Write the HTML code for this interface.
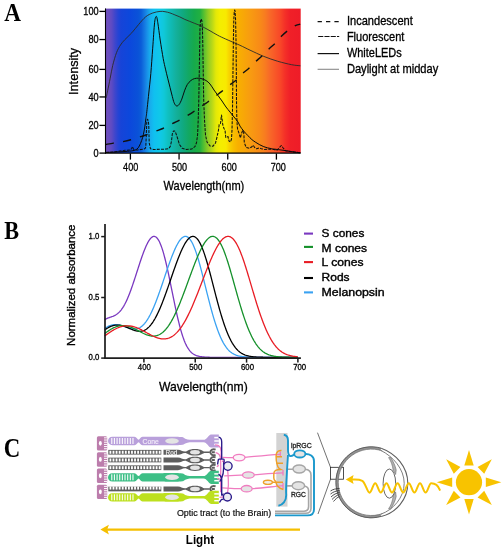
<!DOCTYPE html>
<html><head><meta charset="utf-8"><style>
html,body{margin:0;padding:0;background:#fff;width:504px;height:550px;overflow:hidden}
</style></head><body>
<svg width="504" height="550" viewBox="0 0 504 550" style="position:absolute;left:0;top:0;will-change:transform">
<defs><linearGradient id="spec" gradientUnits="userSpaceOnUse" x1="105.6" y1="0" x2="300.7" y2="0">
<stop offset="0.0000" stop-color="#7050bc"/>
<stop offset="0.0174" stop-color="#6a4ec0"/>
<stop offset="0.0328" stop-color="#5a4ac4"/>
<stop offset="0.0482" stop-color="#3e46cc"/>
<stop offset="0.0636" stop-color="#2644d4"/>
<stop offset="0.0789" stop-color="#1644d8"/>
<stop offset="0.1251" stop-color="#0c48dc"/>
<stop offset="0.1661" stop-color="#0a52d8"/>
<stop offset="0.1814" stop-color="#0a5cd8"/>
<stop offset="0.1968" stop-color="#1474e0"/>
<stop offset="0.2122" stop-color="#1890e8"/>
<stop offset="0.2276" stop-color="#18acec"/>
<stop offset="0.2481" stop-color="#10c0f0"/>
<stop offset="0.2788" stop-color="#10c8e8"/>
<stop offset="0.2993" stop-color="#10c8d8"/>
<stop offset="0.3198" stop-color="#10c0c0"/>
<stop offset="0.3403" stop-color="#10b8b0"/>
<stop offset="0.3608" stop-color="#14b09c"/>
<stop offset="0.3916" stop-color="#10aa84"/>
<stop offset="0.4223" stop-color="#12a866"/>
<stop offset="0.4531" stop-color="#16aa4c"/>
<stop offset="0.4839" stop-color="#22b040"/>
<stop offset="0.5044" stop-color="#58c030"/>
<stop offset="0.5249" stop-color="#90cc24"/>
<stop offset="0.5454" stop-color="#b8d818"/>
<stop offset="0.5659" stop-color="#e4e808"/>
<stop offset="0.5864" stop-color="#f4ee00"/>
<stop offset="0.6171" stop-color="#f8ea00"/>
<stop offset="0.6325" stop-color="#f8d400"/>
<stop offset="0.6530" stop-color="#f8c000"/>
<stop offset="0.6786" stop-color="#f8b000"/>
<stop offset="0.7401" stop-color="#f89c10"/>
<stop offset="0.7914" stop-color="#f88a18"/>
<stop offset="0.8170" stop-color="#f87c20"/>
<stop offset="0.8426" stop-color="#f86828"/>
<stop offset="0.8939" stop-color="#f84828"/>
<stop offset="0.9195" stop-color="#f43028"/>
<stop offset="0.9452" stop-color="#f02028"/>
<stop offset="1.0000" stop-color="#ee1c28"/>
</linearGradient></defs>
<rect width="504" height="550" fill="#fff"/>
<g font-family="Liberation Serif" font-weight="bold" font-size="26" fill="#000">
<text x="4.3" y="21.2" textLength="16.7" lengthAdjust="spacingAndGlyphs">A</text>
<text x="4.3" y="238.7" textLength="14.8" lengthAdjust="spacingAndGlyphs">B</text>
<text x="3.8" y="457.2" textLength="16.5" font-size="26.8" lengthAdjust="spacingAndGlyphs">C</text>
</g>
<rect x="105.6" y="8.6" width="195.10" height="144.40" fill="url(#spec)"/>
<g fill="none" stroke-linejoin="round">
<path d="M106.20,97.80 C106.43,96.65 106.93,94.17 107.60,90.90 C108.27,87.63 109.35,82.43 110.20,78.20 C111.05,73.97 111.65,69.75 112.70,65.50 C113.75,61.25 115.20,56.12 116.50,52.70 C117.80,49.28 119.12,47.17 120.50,45.00 C121.88,42.83 122.92,41.73 124.80,39.70 C126.68,37.67 129.48,35.35 131.80,32.80 C134.12,30.25 136.38,27.07 138.70,24.40 C141.02,21.73 143.37,18.70 145.70,16.80 C148.03,14.90 150.32,13.90 152.70,13.00 C155.08,12.10 157.95,11.62 160.00,11.40 C162.05,11.18 163.35,11.45 165.00,11.70 C166.65,11.95 168.25,12.37 169.90,12.90 C171.55,13.43 173.25,14.23 174.90,14.90 C176.55,15.57 178.15,16.15 179.80,16.90 C181.45,17.65 183.13,18.65 184.80,19.40 C186.47,20.15 188.15,20.73 189.80,21.40 C191.45,22.07 193.05,22.75 194.70,23.40 C196.35,24.05 198.05,24.57 199.70,25.30 C201.35,26.03 202.88,26.88 204.60,27.80 C206.32,28.72 207.80,29.55 210.00,30.80 C212.20,32.05 215.20,33.93 217.80,35.30 C220.40,36.67 221.90,37.33 225.60,39.00 C229.30,40.67 235.95,43.45 240.00,45.30 C244.05,47.15 245.93,48.25 249.90,50.10 C253.87,51.95 259.17,54.54 263.80,56.40 C268.43,58.26 273.07,59.87 277.70,61.25 C282.33,62.63 287.82,63.94 291.60,64.70 C295.38,65.46 298.93,65.62 300.40,65.80" stroke="#2a2a2a" stroke-width="0.9"/>
<path d="M105.80,144.50 C107.08,144.27 110.82,143.55 113.50,143.10 C116.18,142.65 119.02,142.35 121.90,141.80 C124.78,141.25 128.03,140.53 130.80,139.80 C133.57,139.07 136.02,138.20 138.50,137.40 C140.98,136.60 142.92,136.00 145.70,135.00 C148.48,134.00 152.33,132.48 155.20,131.40 C158.07,130.32 160.37,129.65 162.90,128.50 C165.43,127.35 167.93,125.73 170.40,124.50 C172.87,123.27 175.15,122.43 177.70,121.10 C180.25,119.77 183.15,118.00 185.70,116.50 C188.25,115.00 190.58,113.70 193.00,112.10 C195.42,110.50 197.78,108.55 200.20,106.90 C202.62,105.25 204.98,103.97 207.50,102.20 C210.02,100.43 212.92,98.10 215.30,96.30 C217.68,94.50 219.50,93.22 221.80,91.40 C224.10,89.58 226.78,87.20 229.10,85.40 C231.42,83.60 233.51,82.54 235.70,80.60 C237.89,78.66 240.00,75.85 242.25,73.75 C244.50,71.65 247.01,69.99 249.20,68.00 C251.39,66.01 253.32,63.77 255.40,61.80 C257.48,59.83 259.50,58.30 261.70,56.20 C263.90,54.10 266.40,51.32 268.60,49.20 C270.80,47.08 272.82,45.60 274.90,43.50 C276.98,41.40 279.02,38.70 281.10,36.60 C283.18,34.50 285.58,32.40 287.40,30.90 C289.22,29.40 290.57,28.52 292.00,27.60 C293.43,26.68 294.63,25.98 296.00,25.40 C297.37,24.82 299.50,24.32 300.20,24.10" stroke="#111" stroke-width="1.4" stroke-dasharray="8.2 9.3"/>
<path d="M106.00,152.60 L115.00,151.80 L125.00,150.30 L130.60,149.90 L131.60,148.50 L132.50,146.70 L133.30,148.50 L134.10,149.90 L137.70,149.90 L140.90,149.50 L144.00,149.10 L145.30,148.20 L145.80,146.70 L146.30,134.80 L146.80,121.00 L147.60,119.20 L148.40,121.00 L148.80,126.90 L149.20,142.80 L150.40,148.70 L153.60,149.50 L160.00,149.30 L166.30,149.10 L168.80,148.60 L170.30,146.40 L171.50,141.20 L172.30,134.00 L173.50,130.90 L174.70,130.90 L175.90,133.30 L177.50,138.00 L179.40,144.40 L182.20,148.30 L186.20,149.50 L191.70,149.10 L194.90,146.70 L196.50,142.80 L197.60,134.80 L198.20,120.00 L198.80,100.00 L199.30,70.00 L199.70,45.00 L200.00,28.00 L200.50,21.00 L201.20,18.90 L201.90,21.00 L202.40,28.00 L202.80,45.00 L203.20,70.00 L203.70,100.00 L204.50,120.00 L205.50,135.00 L207.00,142.00 L210.00,146.00 L213.00,146.20 L215.50,143.00 L217.00,137.00 L218.50,130.00 L219.20,124.50 L220.50,123.50 L221.10,118.00 L221.50,115.00 L222.20,120.00 L222.80,125.00 L224.00,128.50 L225.00,130.00 L225.80,137.50 L227.00,137.00 L228.00,136.50 L229.00,141.00 L230.50,142.00 L231.50,139.00 L232.00,130.00 L232.50,110.00 L233.00,70.00 L233.40,40.00 L233.80,20.00 L234.30,11.50 L234.70,10.00 L235.10,11.50 L235.60,20.00 L236.00,40.00 L236.30,70.00 L236.50,100.00 L236.80,118.00 L237.20,125.00 L237.60,129.30 L239.20,133.70 L240.40,138.00 L241.60,133.30 L242.70,130.50 L243.50,130.90 L243.90,134.80 L244.30,142.80 L246.30,147.50 L249.50,148.30 L251.90,146.70 L253.10,145.20 L254.70,147.50 L256.60,148.70 L259.00,147.90 L261.40,148.70 L264.60,149.50 L267.70,149.10 L270.90,149.30 L274.00,149.60 L277.10,150.20 L279.00,148.00 L281.30,145.50 L283.20,148.00 L285.50,150.80 L290.00,151.50 L296.20,152.30 L300.40,152.70" stroke="#111" stroke-width="1.05" stroke-dasharray="3 1.2"/>
<path d="M106.00,152.40 C107.50,152.35 111.83,152.25 115.00,152.10 C118.17,151.95 122.02,151.73 125.00,151.50 C127.98,151.27 130.92,151.10 132.90,150.70 C134.88,150.30 135.83,149.88 136.90,149.10 C137.97,148.32 138.50,147.45 139.30,146.00 C140.10,144.55 141.03,142.27 141.70,140.40 C142.37,138.53 142.78,137.05 143.30,134.80 C143.82,132.55 144.38,129.53 144.80,126.90 C145.22,124.27 145.50,121.23 145.80,119.00 C146.10,116.77 146.12,117.67 146.60,113.50 C147.08,109.33 148.00,100.65 148.70,94.00 C149.40,87.35 150.13,81.23 150.80,73.60 C151.47,65.97 152.07,56.68 152.70,48.20 C153.33,39.72 154.00,28.00 154.60,22.70 C155.20,17.40 155.77,16.40 156.30,16.40 C156.83,16.40 157.15,18.77 157.80,22.70 C158.45,26.63 159.30,34.03 160.20,40.00 C161.10,45.97 162.32,53.65 163.20,58.50 C164.08,63.35 164.75,65.82 165.50,69.10 C166.25,72.38 166.95,75.17 167.70,78.20 C168.45,81.23 169.23,84.27 170.00,87.30 C170.77,90.33 171.62,93.83 172.30,96.40 C172.98,98.97 173.42,101.12 174.10,102.70 C174.78,104.28 175.57,105.60 176.40,105.90 C177.23,106.20 178.20,105.63 179.10,104.50 C180.00,103.37 180.90,101.37 181.80,99.10 C182.70,96.83 183.58,93.33 184.50,90.90 C185.42,88.47 186.23,86.23 187.30,84.50 C188.37,82.77 189.70,81.48 190.90,80.50 C192.10,79.52 193.28,78.98 194.50,78.60 C195.72,78.22 197.12,78.22 198.20,78.20 C199.28,78.18 199.70,78.12 201.00,78.50 C202.30,78.88 204.50,79.58 206.00,80.50 C207.50,81.42 208.67,82.42 210.00,84.00 C211.33,85.58 212.67,88.08 214.00,90.00 C215.33,91.92 216.67,93.67 218.00,95.50 C219.33,97.33 220.67,99.08 222.00,101.00 C223.33,102.92 224.67,105.17 226.00,107.00 C227.33,108.83 228.67,110.33 230.00,112.00 C231.33,113.67 232.67,115.33 234.00,117.00 C235.33,118.67 237.00,120.48 238.00,122.00 C239.00,123.52 239.02,124.55 240.00,126.10 C240.98,127.65 242.58,129.72 243.90,131.30 C245.22,132.88 246.57,134.22 247.90,135.60 C249.23,136.98 250.58,138.47 251.90,139.60 C253.22,140.73 254.48,141.53 255.80,142.40 C257.12,143.27 258.47,144.08 259.80,144.80 C261.13,145.52 262.48,146.18 263.80,146.70 C265.12,147.22 266.38,147.57 267.70,147.90 C269.02,148.23 270.32,148.47 271.70,148.70 C273.08,148.93 273.50,148.95 276.00,149.30 C278.50,149.65 283.33,150.30 286.70,150.80 C290.07,151.30 293.92,151.98 296.20,152.30 C298.48,152.62 299.70,152.63 300.40,152.70" stroke="#0a0a0a" stroke-width="1.0"/>
</g>
<g stroke="#000" stroke-width="1.3" fill="none">
<path d="M105.5,8.4 V153.8" stroke-width="1.1"/>
<path d="M105,153.2 H300.7"/>
<path d="M99.4,153.10 H105"/>
<path d="M99.4,125.40 H105"/>
<path d="M99.4,96.95 H105"/>
<path d="M99.4,69.40 H105"/>
<path d="M99.4,39.55 H105"/>
<path d="M99.4,11.40 H105"/>
<path d="M130.40,153.5 V159.6"/>
<path d="M179.07,153.5 V159.6"/>
<path d="M227.74,153.5 V159.6"/>
<path d="M276.41,153.5 V159.6"/>
</g>
<g font-family="Liberation Sans" font-size="10.6" fill="#000" stroke="#000" stroke-width="0.3">
<text x="98.6" y="156.90" text-anchor="end" textLength="5.1" lengthAdjust="spacingAndGlyphs">0</text>
<text x="98.6" y="129.20" text-anchor="end" textLength="10.2" lengthAdjust="spacingAndGlyphs">20</text>
<text x="98.6" y="100.75" text-anchor="end" textLength="10.2" lengthAdjust="spacingAndGlyphs">40</text>
<text x="98.6" y="73.20" text-anchor="end" textLength="10.2" lengthAdjust="spacingAndGlyphs">60</text>
<text x="98.6" y="43.35" text-anchor="end" textLength="10.2" lengthAdjust="spacingAndGlyphs">80</text>
<text x="98.6" y="15.20" text-anchor="end" textLength="15.3" lengthAdjust="spacingAndGlyphs">100</text>
<text x="130.70" y="171.1" text-anchor="middle" font-size="11.2" textLength="15.2" lengthAdjust="spacingAndGlyphs">400</text>
<text x="179.50" y="171.1" text-anchor="middle" font-size="11.2" textLength="15.2" lengthAdjust="spacingAndGlyphs">500</text>
<text x="229.20" y="171.1" text-anchor="middle" font-size="11.2" textLength="15.2" lengthAdjust="spacingAndGlyphs">600</text>
<text x="278.30" y="171.1" text-anchor="middle" font-size="11.2" textLength="15.2" lengthAdjust="spacingAndGlyphs">700</text>
</g>
<text x="163.6" y="189.9" font-family="Liberation Sans" font-size="12.4" stroke="#000" stroke-width="0.3" textLength="80.7" lengthAdjust="spacingAndGlyphs">Wavelength(nm)</text>
<text transform="translate(77.8,94.9) rotate(-90)" font-family="Liberation Sans" font-size="12.4" stroke="#000" stroke-width="0.3" textLength="47" lengthAdjust="spacingAndGlyphs">Intensity</text>
<g stroke="#111" fill="none">
<path d="M317.6,21.6 H339" stroke-width="1.15" stroke-dasharray="4.3 4.1"/>
<path d="M318.2,36.5 H339.2" stroke-width="1.15" stroke-dasharray="5.1 1.15"/>
<path d="M317.6,53.6 H339" stroke-width="1.2"/>
<path d="M317.6,69.3 H339" stroke="#8a8a8a" stroke-width="1.1"/>
</g>
<g font-family="Liberation Sans" font-size="12.7" fill="#000" stroke="#000" stroke-width="0.32">
<text x="346.9" y="25.0" textLength="65.9" lengthAdjust="spacingAndGlyphs">Incandescent</text>
<text x="346.9" y="41.2" textLength="57.5" lengthAdjust="spacingAndGlyphs">Fluorescent</text>
<text x="346.9" y="57.3" textLength="54.8" lengthAdjust="spacingAndGlyphs">WhiteLEDs</text>
<text x="346.9" y="73.3" textLength="91.4" lengthAdjust="spacingAndGlyphs">Daylight at midday</text>
</g>
<g fill="none" stroke-width="1.3">
<path d="M104.63,319.63 L105.15,319.35 L105.66,319.08 L106.17,318.83 L106.69,318.60 L107.20,318.38 L107.71,318.17 L108.23,317.97 L108.74,317.77 L109.25,317.59 L109.77,317.41 L110.28,317.23 L110.79,317.05 L111.31,316.87 L111.82,316.68 L112.33,316.49 L112.85,316.29 L113.36,316.08 L113.87,315.85 L114.39,315.61 L114.90,315.35 L115.41,315.07 L115.93,314.77 L116.44,314.44 L116.95,314.09 L117.47,313.71 L117.98,313.30 L118.49,312.85 L119.00,312.38 L119.52,311.86 L120.03,311.31 L120.54,310.72 L121.06,310.09 L121.57,309.42 L122.08,308.71 L122.60,307.96 L123.11,307.16 L123.62,306.33 L124.14,305.44 L124.65,304.52 L125.16,303.55 L125.68,302.53 L126.19,301.48 L126.70,300.38 L127.22,299.24 L127.73,298.06 L128.24,296.84 L128.76,295.59 L129.27,294.29 L129.78,292.97 L130.30,291.60 L130.81,290.21 L131.32,288.79 L131.84,287.33 L132.35,285.86 L132.86,284.36 L133.38,282.83 L133.89,281.29 L134.40,279.74 L134.92,278.17 L135.43,276.59 L135.94,275.00 L136.46,273.40 L136.97,271.80 L137.48,270.20 L138.00,268.61 L138.51,267.02 L139.02,265.44 L139.54,263.87 L140.05,262.31 L140.56,260.77 L141.08,259.25 L141.59,257.76 L142.10,256.29 L142.62,254.85 L143.13,253.44 L143.64,252.07 L144.16,250.73 L144.67,249.43 L145.18,248.18 L145.70,246.98 L146.21,245.82 L146.72,244.72 L147.24,243.67 L147.75,242.68 L148.26,241.76 L148.78,240.89 L149.29,240.10 L149.80,239.37 L150.32,238.72 L150.83,238.14 L151.34,237.64 L151.86,237.22 L152.37,236.88 L152.88,236.63 L153.40,236.47 L153.91,236.40 L154.42,236.42 L154.94,236.54 L155.45,236.75 L155.96,237.06 L156.48,237.47 L156.99,237.97 L157.50,238.58 L158.02,239.29 L158.53,240.11 L159.04,241.02 L159.56,242.04 L160.07,243.16 L160.58,244.38 L161.10,245.69 L161.61,247.11 L162.12,248.62 L162.64,250.22 L163.15,251.91 L163.66,253.69 L164.18,255.55 L164.69,257.49 L165.20,259.51 L165.72,261.60 L166.23,263.75 L166.74,265.97 L167.26,268.24 L167.77,270.57 L168.28,272.94 L168.80,275.35 L169.31,277.79 L169.82,280.27 L170.33,282.77 L170.85,285.28 L171.36,287.81 L171.87,290.35 L172.39,292.88 L172.90,295.41 L173.41,297.93 L173.93,300.43 L174.44,302.91 L174.95,305.36 L175.47,307.78 L175.98,310.17 L176.49,312.51 L177.01,314.81 L177.52,317.06 L178.03,319.25 L178.55,321.39 L179.06,323.47 L179.57,325.48 L180.09,327.43 L180.60,329.30 L181.11,331.11 L181.63,332.84 L182.14,334.50 L182.65,336.09 L183.17,337.60 L183.68,339.04 L184.19,340.40 L184.71,341.68 L185.22,342.90 L185.73,344.04 L186.25,345.11 L186.76,346.11 L187.27,347.04 L187.79,347.92 L188.30,348.72 L188.81,349.48 L189.33,350.17 L189.84,350.81 L190.35,351.40 L190.87,351.95 L191.38,352.45 L191.89,352.91 L192.41,353.33 L192.92,353.71 L193.43,354.06 L193.95,354.38 L194.46,354.67 L194.97,354.93 L195.49,355.17 L196.00,355.39 L196.51,355.59 L197.03,355.76 L197.54,355.92 L198.05,356.07 L198.57,356.20 L199.08,356.32 L199.59,356.43 L200.11,356.52 L200.62,356.61 L201.13,356.69 L201.65,356.76 L202.16,356.82 L202.67,356.88 L203.19,356.93 L203.70,356.98 L204.21,357.02 L204.73,357.06 L205.24,357.09 L205.75,357.12 L206.27,357.15 L206.78,357.17 L207.29,357.20 L207.81,357.22 L208.32,357.24 L208.83,357.25 L209.35,357.27 L209.86,357.28 L210.37,357.29 L210.89,357.30 L211.40,357.31 L211.91,357.32 L212.43,357.33 L212.94,357.33 L213.45,357.34 L213.97,357.35 L214.48,357.35 L214.99,357.36 L215.51,357.36 L216.02,357.36 L216.53,357.37 L217.05,357.37 L217.56,357.37 L218.07,357.38 L218.59,357.38 L219.10,357.38 L219.61,357.38 L220.13,357.38 L220.64,357.39 L221.15,357.39 L221.66,357.39 L222.18,357.39 L222.69,357.39 L223.20,357.39 L223.72,357.39 L224.23,357.39 L224.74,357.39 L225.26,357.39 L225.77,357.39 L226.28,357.39 L226.80,357.40 L227.31,357.40 L227.82,357.40 L228.34,357.40 L228.85,357.40 L229.36,357.40 L229.88,357.40 L230.39,357.40 L230.90,357.40 L231.42,357.40 L231.93,357.40 L232.44,357.40 L232.96,357.40 L233.47,357.40 L233.98,357.40 L234.50,357.40 L235.01,357.40 L235.52,357.40 L236.04,357.40 L236.55,357.40 L237.06,357.40 L237.58,357.40 L238.09,357.40 L238.60,357.40 L239.12,357.40 L239.63,357.40 L240.14,357.40 L240.66,357.40 L241.17,357.40 L241.68,357.40 L242.20,357.40 L242.71,357.40 L243.22,357.40 L243.74,357.40 L244.25,357.40 L244.76,357.40 L245.28,357.40 L245.79,357.40 L246.30,357.40 L246.82,357.40 L247.33,357.40 L247.84,357.40 L248.36,357.40 L248.87,357.40 L249.38,357.40 L249.90,357.40 L250.41,357.40 L250.92,357.40 L251.44,357.40 L251.95,357.40 L252.46,357.40 L252.98,357.40 L253.49,357.40 L254.00,357.40 L254.52,357.40 L255.03,357.40 L255.54,357.40 L256.06,357.40 L256.57,357.40 L257.08,357.40 L257.60,357.40 L258.11,357.40 L258.62,357.40 L259.14,357.40 L259.65,357.40 L260.16,357.40 L260.68,357.40 L261.19,357.40 L261.70,357.40 L262.22,357.40 L262.73,357.40 L263.24,357.40 L263.76,357.40 L264.27,357.40 L264.78,357.40 L265.30,357.40 L265.81,357.40 L266.32,357.40 L266.84,357.40 L267.35,357.40 L267.86,357.40 L268.38,357.40 L268.89,357.40 L269.40,357.40 L269.92,357.40 L270.43,357.40 L270.94,357.40 L271.46,357.40 L271.97,357.40 L272.48,357.40 L272.99,357.40 L273.51,357.40 L274.02,357.40 L274.53,357.40 L275.05,357.40 L275.56,357.40 L276.07,357.40 L276.59,357.40 L277.10,357.40 L277.61,357.40 L278.13,357.40 L278.64,357.40 L279.15,357.40 L279.67,357.40 L280.18,357.40 L280.69,357.40 L281.21,357.40 L281.72,357.40 L282.23,357.40 L282.75,357.40 L283.26,357.40 L283.77,357.40 L284.29,357.40 L284.80,357.40 L285.31,357.40 L285.83,357.40 L286.34,357.40 L286.85,357.40 L287.37,357.40 L287.88,357.40 L288.39,357.40 L288.91,357.40 L289.42,357.40 L289.93,357.40 L290.45,357.40 L290.96,357.40 L291.47,357.40 L291.99,357.40 L292.50,357.40 L293.01,357.40 L293.53,357.40 L294.04,357.40 L294.55,357.40 L295.07,357.40 L295.58,357.40 L296.09,357.40 L296.61,357.40 L297.12,357.40 L297.63,357.40" stroke="#7a38c0"/>
<path d="M104.63,328.62 L105.15,328.25 L105.66,327.91 L106.17,327.58 L106.69,327.26 L107.20,326.97 L107.71,326.68 L108.23,326.42 L108.74,326.17 L109.25,325.94 L109.77,325.73 L110.28,325.54 L110.79,325.36 L111.31,325.21 L111.82,325.07 L112.33,324.95 L112.85,324.85 L113.36,324.76 L113.87,324.70 L114.39,324.65 L114.90,324.62 L115.41,324.61 L115.93,324.61 L116.44,324.63 L116.95,324.67 L117.47,324.72 L117.98,324.78 L118.49,324.86 L119.00,324.96 L119.52,325.06 L120.03,325.18 L120.54,325.31 L121.06,325.45 L121.57,325.60 L122.08,325.76 L122.60,325.92 L123.11,326.09 L123.62,326.27 L124.14,326.45 L124.65,326.63 L125.16,326.81 L125.68,327.00 L126.19,327.18 L126.70,327.36 L127.22,327.54 L127.73,327.72 L128.24,327.89 L128.76,328.05 L129.27,328.20 L129.78,328.35 L130.30,328.49 L130.81,328.61 L131.32,328.72 L131.84,328.81 L132.35,328.89 L132.86,328.96 L133.38,329.00 L133.89,329.03 L134.40,329.03 L134.92,329.02 L135.43,328.98 L135.94,328.92 L136.46,328.83 L136.97,328.72 L137.48,328.58 L138.00,328.41 L138.51,328.21 L139.02,327.99 L139.54,327.73 L140.05,327.45 L140.56,327.13 L141.08,326.78 L141.59,326.39 L142.10,325.98 L142.62,325.53 L143.13,325.04 L143.64,324.52 L144.16,323.96 L144.67,323.37 L145.18,322.75 L145.70,322.08 L146.21,321.38 L146.72,320.65 L147.24,319.88 L147.75,319.07 L148.26,318.23 L148.78,317.35 L149.29,316.44 L149.80,315.49 L150.32,314.51 L150.83,313.49 L151.34,312.45 L151.86,311.37 L152.37,310.25 L152.88,309.11 L153.40,307.94 L153.91,306.73 L154.42,305.50 L154.94,304.24 L155.45,302.96 L155.96,301.65 L156.48,300.31 L156.99,298.96 L157.50,297.58 L158.02,296.18 L158.53,294.76 L159.04,293.33 L159.56,291.88 L160.07,290.41 L160.58,288.94 L161.10,287.45 L161.61,285.95 L162.12,284.44 L162.64,282.93 L163.15,281.41 L163.66,279.89 L164.18,278.37 L164.69,276.84 L165.20,275.32 L165.72,273.81 L166.23,272.30 L166.74,270.79 L167.26,269.30 L167.77,267.81 L168.28,266.34 L168.80,264.88 L169.31,263.44 L169.82,262.01 L170.33,260.61 L170.85,259.22 L171.36,257.86 L171.87,256.53 L172.39,255.22 L172.90,253.94 L173.41,252.69 L173.93,251.47 L174.44,250.28 L174.95,249.14 L175.47,248.02 L175.98,246.95 L176.49,245.92 L177.01,244.93 L177.52,243.99 L178.03,243.09 L178.55,242.25 L179.06,241.45 L179.57,240.70 L180.09,240.01 L180.60,239.37 L181.11,238.79 L181.63,238.27 L182.14,237.81 L182.65,237.41 L183.17,237.07 L183.68,236.80 L184.19,236.60 L184.71,236.47 L185.22,236.40 L185.73,236.41 L186.25,236.48 L186.76,236.63 L187.27,236.86 L187.79,237.15 L188.30,237.53 L188.81,237.98 L189.33,238.50 L189.84,239.10 L190.35,239.78 L190.87,240.54 L191.38,241.37 L191.89,242.27 L192.41,243.25 L192.92,244.31 L193.43,245.43 L193.95,246.63 L194.46,247.90 L194.97,249.23 L195.49,250.63 L196.00,252.09 L196.51,253.62 L197.03,255.20 L197.54,256.84 L198.05,258.53 L198.57,260.27 L199.08,262.06 L199.59,263.89 L200.11,265.76 L200.62,267.66 L201.13,269.60 L201.65,271.57 L202.16,273.57 L202.67,275.58 L203.19,277.61 L203.70,279.66 L204.21,281.72 L204.73,283.79 L205.24,285.86 L205.75,287.93 L206.27,289.99 L206.78,292.06 L207.29,294.11 L207.81,296.15 L208.32,298.18 L208.83,300.18 L209.35,302.17 L209.86,304.14 L210.37,306.08 L210.89,307.99 L211.40,309.88 L211.91,311.73 L212.43,313.56 L212.94,315.35 L213.45,317.10 L213.97,318.82 L214.48,320.50 L214.99,322.14 L215.51,323.74 L216.02,325.29 L216.53,326.81 L217.05,328.29 L217.56,329.72 L218.07,331.11 L218.59,332.45 L219.10,333.75 L219.61,335.01 L220.13,336.22 L220.64,337.39 L221.15,338.52 L221.66,339.60 L222.18,340.63 L222.69,341.63 L223.20,342.58 L223.72,343.49 L224.23,344.35 L224.74,345.18 L225.26,345.96 L225.77,346.71 L226.28,347.42 L226.80,348.09 L227.31,348.72 L227.82,349.32 L228.34,349.89 L228.85,350.42 L229.36,350.92 L229.88,351.39 L230.39,351.83 L230.90,352.24 L231.42,352.62 L231.93,352.98 L232.44,353.32 L232.96,353.63 L233.47,353.92 L233.98,354.19 L234.50,354.45 L235.01,354.68 L235.52,354.90 L236.04,355.10 L236.55,355.28 L237.06,355.45 L237.58,355.61 L238.09,355.76 L238.60,355.89 L239.12,356.01 L239.63,356.13 L240.14,356.23 L240.66,356.33 L241.17,356.42 L241.68,356.50 L242.20,356.58 L242.71,356.64 L243.22,356.71 L243.74,356.77 L244.25,356.82 L244.76,356.87 L245.28,356.91 L245.79,356.95 L246.30,356.99 L246.82,357.03 L247.33,357.06 L247.84,357.09 L248.36,357.11 L248.87,357.14 L249.38,357.16 L249.90,357.18 L250.41,357.20 L250.92,357.21 L251.44,357.23 L251.95,357.24 L252.46,357.26 L252.98,357.27 L253.49,357.28 L254.00,357.29 L254.52,357.30 L255.03,357.31 L255.54,357.31 L256.06,357.32 L256.57,357.33 L257.08,357.33 L257.60,357.34 L258.11,357.34 L258.62,357.35 L259.14,357.35 L259.65,357.36 L260.16,357.36 L260.68,357.36 L261.19,357.37 L261.70,357.37 L262.22,357.37 L262.73,357.37 L263.24,357.38 L263.76,357.38 L264.27,357.38 L264.78,357.38 L265.30,357.38 L265.81,357.38 L266.32,357.39 L266.84,357.39 L267.35,357.39 L267.86,357.39 L268.38,357.39 L268.89,357.39 L269.40,357.39 L269.92,357.39 L270.43,357.39 L270.94,357.39 L271.46,357.39 L271.97,357.39 L272.48,357.39 L272.99,357.39 L273.51,357.40 L274.02,357.40 L274.53,357.40 L275.05,357.40 L275.56,357.40 L276.07,357.40 L276.59,357.40 L277.10,357.40 L277.61,357.40 L278.13,357.40 L278.64,357.40 L279.15,357.40 L279.67,357.40 L280.18,357.40 L280.69,357.40 L281.21,357.40 L281.72,357.40 L282.23,357.40 L282.75,357.40 L283.26,357.40 L283.77,357.40 L284.29,357.40 L284.80,357.40 L285.31,357.40 L285.83,357.40 L286.34,357.40 L286.85,357.40 L287.37,357.40 L287.88,357.40 L288.39,357.40 L288.91,357.40 L289.42,357.40 L289.93,357.40 L290.45,357.40 L290.96,357.40 L291.47,357.40 L291.99,357.40 L292.50,357.40 L293.01,357.40 L293.53,357.40 L294.04,357.40 L294.55,357.40 L295.07,357.40 L295.58,357.40 L296.09,357.40 L296.61,357.40 L297.12,357.40 L297.63,357.40" stroke="#3aa2f2"/>
<path d="M104.63,330.09 L105.15,329.71 L105.66,329.34 L106.17,328.98 L106.69,328.64 L107.20,328.31 L107.71,327.99 L108.23,327.69 L108.74,327.40 L109.25,327.13 L109.77,326.87 L110.28,326.63 L110.79,326.41 L111.31,326.20 L111.82,326.01 L112.33,325.84 L112.85,325.68 L113.36,325.54 L113.87,325.42 L114.39,325.31 L114.90,325.22 L115.41,325.15 L115.93,325.10 L116.44,325.06 L116.95,325.04 L117.47,325.03 L117.98,325.05 L118.49,325.07 L119.00,325.12 L119.52,325.18 L120.03,325.25 L120.54,325.34 L121.06,325.44 L121.57,325.56 L122.08,325.68 L122.60,325.82 L123.11,325.97 L123.62,326.13 L124.14,326.30 L124.65,326.48 L125.16,326.67 L125.68,326.87 L126.19,327.07 L126.70,327.28 L127.22,327.49 L127.73,327.70 L128.24,327.92 L128.76,328.14 L129.27,328.36 L129.78,328.58 L130.30,328.80 L130.81,329.02 L131.32,329.23 L131.84,329.44 L132.35,329.64 L132.86,329.84 L133.38,330.03 L133.89,330.21 L134.40,330.38 L134.92,330.53 L135.43,330.68 L135.94,330.81 L136.46,330.93 L136.97,331.04 L137.48,331.12 L138.00,331.19 L138.51,331.25 L139.02,331.28 L139.54,331.29 L140.05,331.28 L140.56,331.25 L141.08,331.20 L141.59,331.12 L142.10,331.02 L142.62,330.89 L143.13,330.73 L143.64,330.55 L144.16,330.34 L144.67,330.11 L145.18,329.84 L145.70,329.54 L146.21,329.22 L146.72,328.86 L147.24,328.47 L147.75,328.05 L148.26,327.60 L148.78,327.11 L149.29,326.60 L149.80,326.05 L150.32,325.46 L150.83,324.85 L151.34,324.20 L151.86,323.51 L152.37,322.79 L152.88,322.04 L153.40,321.26 L153.91,320.44 L154.42,319.59 L154.94,318.71 L155.45,317.79 L155.96,316.85 L156.48,315.87 L156.99,314.86 L157.50,313.81 L158.02,312.74 L158.53,311.64 L159.04,310.52 L159.56,309.36 L160.07,308.17 L160.58,306.96 L161.10,305.73 L161.61,304.47 L162.12,303.19 L162.64,301.88 L163.15,300.55 L163.66,299.21 L164.18,297.84 L164.69,296.46 L165.20,295.06 L165.72,293.64 L166.23,292.21 L166.74,290.77 L167.26,289.32 L167.77,287.85 L168.28,286.38 L168.80,284.90 L169.31,283.42 L169.82,281.93 L170.33,280.44 L170.85,278.95 L171.36,277.45 L171.87,275.97 L172.39,274.48 L172.90,273.00 L173.41,271.53 L173.93,270.06 L174.44,268.60 L174.95,267.16 L175.47,265.73 L175.98,264.31 L176.49,262.91 L177.01,261.53 L177.52,260.17 L178.03,258.83 L178.55,257.51 L179.06,256.21 L179.57,254.95 L180.09,253.70 L180.60,252.49 L181.11,251.31 L181.63,250.16 L182.14,249.05 L182.65,247.97 L183.17,246.93 L183.68,245.93 L184.19,244.97 L184.71,244.05 L185.22,243.17 L185.73,242.34 L186.25,241.56 L186.76,240.83 L187.27,240.15 L187.79,239.52 L188.30,238.94 L188.81,238.42 L189.33,237.95 L189.84,237.54 L190.35,237.20 L190.87,236.91 L191.38,236.69 L191.89,236.53 L192.41,236.43 L192.92,236.40 L193.43,236.44 L193.95,236.54 L194.46,236.72 L194.97,236.96 L195.49,237.28 L196.00,237.66 L196.51,238.12 L197.03,238.65 L197.54,239.25 L198.05,239.93 L198.57,240.67 L199.08,241.49 L199.59,242.38 L200.11,243.33 L200.62,244.36 L201.13,245.45 L201.65,246.61 L202.16,247.84 L202.67,249.13 L203.19,250.48 L203.70,251.89 L204.21,253.36 L204.73,254.89 L205.24,256.46 L205.75,258.09 L206.27,259.76 L206.78,261.48 L207.29,263.24 L207.81,265.04 L208.32,266.87 L208.83,268.73 L209.35,270.63 L209.86,272.54 L210.37,274.48 L210.89,276.44 L211.40,278.41 L211.91,280.40 L212.43,282.39 L212.94,284.39 L213.45,286.39 L213.97,288.39 L214.48,290.38 L214.99,292.37 L215.51,294.35 L216.02,296.32 L216.53,298.27 L217.05,300.21 L217.56,302.12 L218.07,304.02 L218.59,305.89 L219.10,307.74 L219.61,309.56 L220.13,311.35 L220.64,313.11 L221.15,314.84 L221.66,316.53 L222.18,318.20 L222.69,319.82 L223.20,321.41 L223.72,322.97 L224.23,324.48 L224.74,325.96 L225.26,327.40 L225.77,328.80 L226.28,330.16 L226.80,331.48 L227.31,332.76 L227.82,334.00 L228.34,335.20 L228.85,336.35 L229.36,337.47 L229.88,338.55 L230.39,339.58 L230.90,340.58 L231.42,341.53 L231.93,342.45 L232.44,343.33 L232.96,344.17 L233.47,344.97 L233.98,345.73 L234.50,346.46 L235.01,347.15 L235.52,347.81 L236.04,348.43 L236.55,349.02 L237.06,349.58 L237.58,350.11 L238.09,350.61 L238.60,351.08 L239.12,351.52 L239.63,351.94 L240.14,352.33 L240.66,352.69 L241.17,353.03 L241.68,353.35 L242.20,353.65 L242.71,353.93 L243.22,354.19 L243.74,354.44 L244.25,354.66 L244.76,354.87 L245.28,355.07 L245.79,355.25 L246.30,355.42 L246.82,355.57 L247.33,355.71 L247.84,355.85 L248.36,355.97 L248.87,356.08 L249.38,356.19 L249.90,356.29 L250.41,356.38 L250.92,356.46 L251.44,356.53 L251.95,356.60 L252.46,356.67 L252.98,356.73 L253.49,356.78 L254.00,356.83 L254.52,356.88 L255.03,356.92 L255.54,356.96 L256.06,357.00 L256.57,357.03 L257.08,357.06 L257.60,357.09 L258.11,357.11 L258.62,357.13 L259.14,357.16 L259.65,357.18 L260.16,357.19 L260.68,357.21 L261.19,357.23 L261.70,357.24 L262.22,357.25 L262.73,357.26 L263.24,357.28 L263.76,357.29 L264.27,357.29 L264.78,357.30 L265.30,357.31 L265.81,357.32 L266.32,357.32 L266.84,357.33 L267.35,357.34 L267.86,357.34 L268.38,357.35 L268.89,357.35 L269.40,357.35 L269.92,357.36 L270.43,357.36 L270.94,357.36 L271.46,357.37 L271.97,357.37 L272.48,357.37 L272.99,357.37 L273.51,357.38 L274.02,357.38 L274.53,357.38 L275.05,357.38 L275.56,357.38 L276.07,357.38 L276.59,357.39 L277.10,357.39 L277.61,357.39 L278.13,357.39 L278.64,357.39 L279.15,357.39 L279.67,357.39 L280.18,357.39 L280.69,357.39 L281.21,357.39 L281.72,357.39 L282.23,357.39 L282.75,357.39 L283.26,357.39 L283.77,357.39 L284.29,357.40 L284.80,357.40 L285.31,357.40 L285.83,357.40 L286.34,357.40 L286.85,357.40 L287.37,357.40 L287.88,357.40 L288.39,357.40 L288.91,357.40 L289.42,357.40 L289.93,357.40 L290.45,357.40 L290.96,357.40 L291.47,357.40 L291.99,357.40 L292.50,357.40 L293.01,357.40 L293.53,357.40 L294.04,357.40 L294.55,357.40 L295.07,357.40 L295.58,357.40 L296.09,357.40 L296.61,357.40 L297.12,357.40 L297.63,357.40" stroke="#000"/>
<path d="M104.63,333.63 L105.15,333.23 L105.66,332.84 L106.17,332.46 L106.69,332.08 L107.20,331.71 L107.71,331.34 L108.23,330.99 L108.74,330.64 L109.25,330.30 L109.77,329.97 L110.28,329.65 L110.79,329.34 L111.31,329.04 L111.82,328.75 L112.33,328.47 L112.85,328.20 L113.36,327.94 L113.87,327.70 L114.39,327.47 L114.90,327.25 L115.41,327.04 L115.93,326.85 L116.44,326.67 L116.95,326.50 L117.47,326.35 L117.98,326.21 L118.49,326.08 L119.00,325.97 L119.52,325.88 L120.03,325.79 L120.54,325.72 L121.06,325.67 L121.57,325.63 L122.08,325.61 L122.60,325.60 L123.11,325.60 L123.62,325.62 L124.14,325.65 L124.65,325.69 L125.16,325.75 L125.68,325.82 L126.19,325.91 L126.70,326.01 L127.22,326.12 L127.73,326.24 L128.24,326.37 L128.76,326.52 L129.27,326.68 L129.78,326.85 L130.30,327.02 L130.81,327.21 L131.32,327.41 L131.84,327.62 L132.35,327.83 L132.86,328.06 L133.38,328.29 L133.89,328.52 L134.40,328.77 L134.92,329.02 L135.43,329.27 L135.94,329.53 L136.46,329.79 L136.97,330.06 L137.48,330.33 L138.00,330.60 L138.51,330.87 L139.02,331.14 L139.54,331.41 L140.05,331.68 L140.56,331.95 L141.08,332.22 L141.59,332.48 L142.10,332.74 L142.62,333.00 L143.13,333.25 L143.64,333.50 L144.16,333.73 L144.67,333.97 L145.18,334.19 L145.70,334.40 L146.21,334.61 L146.72,334.80 L147.24,334.99 L147.75,335.16 L148.26,335.32 L148.78,335.47 L149.29,335.60 L149.80,335.72 L150.32,335.83 L150.83,335.92 L151.34,335.99 L151.86,336.05 L152.37,336.09 L152.88,336.11 L153.40,336.11 L153.91,336.09 L154.42,336.06 L154.94,336.00 L155.45,335.93 L155.96,335.83 L156.48,335.71 L156.99,335.57 L157.50,335.40 L158.02,335.22 L158.53,335.00 L159.04,334.77 L159.56,334.51 L160.07,334.22 L160.58,333.91 L161.10,333.58 L161.61,333.22 L162.12,332.83 L162.64,332.42 L163.15,331.98 L163.66,331.51 L164.18,331.02 L164.69,330.50 L165.20,329.95 L165.72,329.37 L166.23,328.77 L166.74,328.14 L167.26,327.48 L167.77,326.80 L168.28,326.08 L168.80,325.34 L169.31,324.57 L169.82,323.78 L170.33,322.96 L170.85,322.11 L171.36,321.23 L171.87,320.33 L172.39,319.40 L172.90,318.44 L173.41,317.47 L173.93,316.46 L174.44,315.43 L174.95,314.38 L175.47,313.30 L175.98,312.20 L176.49,311.08 L177.01,309.94 L177.52,308.77 L178.03,307.59 L178.55,306.38 L179.06,305.16 L179.57,303.91 L180.09,302.65 L180.60,301.38 L181.11,300.09 L181.63,298.78 L182.14,297.46 L182.65,296.13 L183.17,294.78 L183.68,293.42 L184.19,292.06 L184.71,290.68 L185.22,289.30 L185.73,287.91 L186.25,286.52 L186.76,285.12 L187.27,283.71 L187.79,282.31 L188.30,280.90 L188.81,279.50 L189.33,278.09 L189.84,276.69 L190.35,275.29 L190.87,273.90 L191.38,272.51 L191.89,271.13 L192.41,269.76 L192.92,268.40 L193.43,267.05 L193.95,265.71 L194.46,264.39 L194.97,263.08 L195.49,261.78 L196.00,260.51 L196.51,259.25 L197.03,258.01 L197.54,256.79 L198.05,255.60 L198.57,254.43 L199.08,253.28 L199.59,252.16 L200.11,251.07 L200.62,250.00 L201.13,248.97 L201.65,247.97 L202.16,247.00 L202.67,246.06 L203.19,245.16 L203.70,244.30 L204.21,243.47 L204.73,242.68 L205.24,241.93 L205.75,241.23 L206.27,240.57 L206.78,239.95 L207.29,239.37 L207.81,238.85 L208.32,238.37 L208.83,237.94 L209.35,237.56 L209.86,237.23 L210.37,236.96 L210.89,236.73 L211.40,236.57 L211.91,236.46 L212.43,236.40 L212.94,236.40 L213.45,236.46 L213.97,236.58 L214.48,236.76 L214.99,237.00 L215.51,237.30 L216.02,237.66 L216.53,238.09 L217.05,238.57 L217.56,239.12 L218.07,239.73 L218.59,240.40 L219.10,241.13 L219.61,241.92 L220.13,242.78 L220.64,243.69 L221.15,244.66 L221.66,245.69 L222.18,246.78 L222.69,247.92 L223.20,249.12 L223.72,250.37 L224.23,251.67 L224.74,253.02 L225.26,254.42 L225.77,255.86 L226.28,257.35 L226.80,258.88 L227.31,260.45 L227.82,262.05 L228.34,263.69 L228.85,265.36 L229.36,267.06 L229.88,268.79 L230.39,270.54 L230.90,272.31 L231.42,274.10 L231.93,275.90 L232.44,277.72 L232.96,279.55 L233.47,281.39 L233.98,283.23 L234.50,285.08 L235.01,286.92 L235.52,288.76 L236.04,290.60 L236.55,292.44 L237.06,294.26 L237.58,296.07 L238.09,297.87 L238.60,299.66 L239.12,301.43 L239.63,303.18 L240.14,304.91 L240.66,306.62 L241.17,308.31 L241.68,309.97 L242.20,311.61 L242.71,313.22 L243.22,314.81 L243.74,316.36 L244.25,317.89 L244.76,319.39 L245.28,320.86 L245.79,322.29 L246.30,323.70 L246.82,325.07 L247.33,326.41 L247.84,327.72 L248.36,328.99 L248.87,330.23 L249.38,331.43 L249.90,332.61 L250.41,333.74 L250.92,334.85 L251.44,335.92 L251.95,336.95 L252.46,337.95 L252.98,338.92 L253.49,339.85 L254.00,340.75 L254.52,341.62 L255.03,342.46 L255.54,343.26 L256.06,344.03 L256.57,344.77 L257.08,345.48 L257.60,346.15 L258.11,346.80 L258.62,347.42 L259.14,348.01 L259.65,348.57 L260.16,349.11 L260.68,349.62 L261.19,350.10 L261.70,350.56 L262.22,350.99 L262.73,351.40 L263.24,351.79 L263.76,352.16 L264.27,352.50 L264.78,352.83 L265.30,353.14 L265.81,353.42 L266.32,353.70 L266.84,353.95 L267.35,354.19 L267.86,354.41 L268.38,354.62 L268.89,354.82 L269.40,355.00 L269.92,355.17 L270.43,355.33 L270.94,355.48 L271.46,355.62 L271.97,355.75 L272.48,355.87 L272.99,355.98 L273.51,356.09 L274.02,356.18 L274.53,356.27 L275.05,356.36 L275.56,356.43 L276.07,356.51 L276.59,356.57 L277.10,356.63 L277.61,356.69 L278.13,356.74 L278.64,356.79 L279.15,356.84 L279.67,356.88 L280.18,356.92 L280.69,356.96 L281.21,356.99 L281.72,357.02 L282.23,357.05 L282.75,357.08 L283.26,357.10 L283.77,357.12 L284.29,357.14 L284.80,357.16 L285.31,357.18 L285.83,357.20 L286.34,357.21 L286.85,357.23 L287.37,357.24 L287.88,357.25 L288.39,357.26 L288.91,357.27 L289.42,357.28 L289.93,357.29 L290.45,357.30 L290.96,357.31 L291.47,357.31 L291.99,357.32 L292.50,357.33 L293.01,357.33 L293.53,357.34 L294.04,357.34 L294.55,357.35 L295.07,357.35 L295.58,357.35 L296.09,357.36 L296.61,357.36 L297.12,357.36 L297.63,357.37" stroke="#14902a"/>
<path d="M104.63,336.02 L105.15,335.64 L105.66,335.26 L106.17,334.88 L106.69,334.51 L107.20,334.14 L107.71,333.77 L108.23,333.41 L108.74,333.05 L109.25,332.70 L109.77,332.35 L110.28,332.01 L110.79,331.67 L111.31,331.34 L111.82,331.02 L112.33,330.70 L112.85,330.39 L113.36,330.09 L113.87,329.80 L114.39,329.51 L114.90,329.23 L115.41,328.97 L115.93,328.71 L116.44,328.46 L116.95,328.22 L117.47,327.99 L117.98,327.77 L118.49,327.56 L119.00,327.36 L119.52,327.17 L120.03,327.00 L120.54,326.83 L121.06,326.68 L121.57,326.54 L122.08,326.41 L122.60,326.29 L123.11,326.18 L123.62,326.09 L124.14,326.01 L124.65,325.94 L125.16,325.88 L125.68,325.83 L126.19,325.80 L126.70,325.78 L127.22,325.78 L127.73,325.78 L128.24,325.80 L128.76,325.83 L129.27,325.87 L129.78,325.92 L130.30,325.99 L130.81,326.06 L131.32,326.15 L131.84,326.25 L132.35,326.36 L132.86,326.48 L133.38,326.62 L133.89,326.76 L134.40,326.91 L134.92,327.08 L135.43,327.25 L135.94,327.43 L136.46,327.62 L136.97,327.82 L137.48,328.03 L138.00,328.25 L138.51,328.47 L139.02,328.70 L139.54,328.94 L140.05,329.18 L140.56,329.44 L141.08,329.69 L141.59,329.95 L142.10,330.22 L142.62,330.49 L143.13,330.76 L143.64,331.04 L144.16,331.32 L144.67,331.60 L145.18,331.88 L145.70,332.17 L146.21,332.45 L146.72,332.74 L147.24,333.02 L147.75,333.31 L148.26,333.59 L148.78,333.87 L149.29,334.15 L149.80,334.43 L150.32,334.70 L150.83,334.97 L151.34,335.23 L151.86,335.49 L152.37,335.75 L152.88,336.00 L153.40,336.24 L153.91,336.47 L154.42,336.70 L154.94,336.92 L155.45,337.13 L155.96,337.33 L156.48,337.53 L156.99,337.71 L157.50,337.88 L158.02,338.04 L158.53,338.19 L159.04,338.33 L159.56,338.45 L160.07,338.56 L160.58,338.66 L161.10,338.75 L161.61,338.82 L162.12,338.87 L162.64,338.91 L163.15,338.94 L163.66,338.95 L164.18,338.94 L164.69,338.91 L165.20,338.87 L165.72,338.81 L166.23,338.73 L166.74,338.64 L167.26,338.52 L167.77,338.39 L168.28,338.24 L168.80,338.06 L169.31,337.87 L169.82,337.66 L170.33,337.42 L170.85,337.17 L171.36,336.89 L171.87,336.59 L172.39,336.27 L172.90,335.93 L173.41,335.57 L173.93,335.18 L174.44,334.77 L174.95,334.34 L175.47,333.88 L175.98,333.40 L176.49,332.90 L177.01,332.37 L177.52,331.82 L178.03,331.25 L178.55,330.65 L179.06,330.03 L179.57,329.39 L180.09,328.72 L180.60,328.03 L181.11,327.31 L181.63,326.57 L182.14,325.81 L182.65,325.02 L183.17,324.21 L183.68,323.38 L184.19,322.53 L184.71,321.65 L185.22,320.75 L185.73,319.82 L186.25,318.88 L186.76,317.91 L187.27,316.92 L187.79,315.91 L188.30,314.88 L188.81,313.83 L189.33,312.76 L189.84,311.67 L190.35,310.57 L190.87,309.44 L191.38,308.30 L191.89,307.14 L192.41,305.96 L192.92,304.77 L193.43,303.57 L193.95,302.34 L194.46,301.11 L194.97,299.86 L195.49,298.60 L196.00,297.33 L196.51,296.05 L197.03,294.76 L197.54,293.46 L198.05,292.15 L198.57,290.83 L199.08,289.51 L199.59,288.18 L200.11,286.85 L200.62,285.52 L201.13,284.18 L201.65,282.84 L202.16,281.50 L202.67,280.16 L203.19,278.82 L203.70,277.48 L204.21,276.15 L204.73,274.82 L205.24,273.49 L205.75,272.18 L206.27,270.87 L206.78,269.56 L207.29,268.27 L207.81,266.99 L208.32,265.72 L208.83,264.46 L209.35,263.21 L209.86,261.98 L210.37,260.77 L210.89,259.57 L211.40,258.39 L211.91,257.23 L212.43,256.09 L212.94,254.97 L213.45,253.87 L213.97,252.79 L214.48,251.74 L214.99,250.71 L215.51,249.71 L216.02,248.74 L216.53,247.79 L217.05,246.88 L217.56,246.00 L218.07,245.14 L218.59,244.32 L219.10,243.54 L219.61,242.79 L220.13,242.07 L220.64,241.40 L221.15,240.76 L221.66,240.16 L222.18,239.60 L222.69,239.08 L223.20,238.61 L223.72,238.17 L224.23,237.79 L224.74,237.44 L225.26,237.15 L225.77,236.90 L226.28,236.70 L226.80,236.55 L227.31,236.45 L227.82,236.40 L228.34,236.40 L228.85,236.46 L229.36,236.56 L229.88,236.72 L230.39,236.94 L230.90,237.21 L231.42,237.53 L231.93,237.91 L232.44,238.34 L232.96,238.83 L233.47,239.38 L233.98,239.98 L234.50,240.63 L235.01,241.34 L235.52,242.11 L236.04,242.93 L236.55,243.80 L237.06,244.72 L237.58,245.70 L238.09,246.73 L238.60,247.81 L239.12,248.93 L239.63,250.11 L240.14,251.33 L240.66,252.60 L241.17,253.90 L241.68,255.25 L242.20,256.64 L242.71,258.07 L243.22,259.54 L243.74,261.03 L244.25,262.56 L244.76,264.12 L245.28,265.71 L245.79,267.32 L246.30,268.96 L246.82,270.62 L247.33,272.29 L247.84,273.98 L248.36,275.69 L248.87,277.41 L249.38,279.14 L249.90,280.87 L250.41,282.61 L250.92,284.36 L251.44,286.10 L251.95,287.85 L252.46,289.59 L252.98,291.32 L253.49,293.05 L254.00,294.78 L254.52,296.49 L255.03,298.18 L255.54,299.87 L256.06,301.54 L256.57,303.19 L257.08,304.83 L257.60,306.45 L258.11,308.04 L258.62,309.62 L259.14,311.17 L259.65,312.70 L260.16,314.21 L260.68,315.69 L261.19,317.14 L261.70,318.57 L262.22,319.98 L262.73,321.35 L263.24,322.70 L263.76,324.01 L264.27,325.30 L264.78,326.56 L265.30,327.79 L265.81,328.99 L266.32,330.16 L266.84,331.30 L267.35,332.41 L267.86,333.49 L268.38,334.54 L268.89,335.56 L269.40,336.55 L269.92,337.50 L270.43,338.43 L270.94,339.33 L271.46,340.20 L271.97,341.04 L272.48,341.85 L272.99,342.63 L273.51,343.38 L274.02,344.10 L274.53,344.80 L275.05,345.46 L275.56,346.10 L276.07,346.72 L276.59,347.31 L277.10,347.87 L277.61,348.41 L278.13,348.92 L278.64,349.41 L279.15,349.87 L279.67,350.32 L280.18,350.74 L280.69,351.14 L281.21,351.52 L281.72,351.88 L282.23,352.22 L282.75,352.55 L283.26,352.85 L283.77,353.14 L284.29,353.41 L284.80,353.67 L285.31,353.91 L285.83,354.14 L286.34,354.36 L286.85,354.56 L287.37,354.75 L287.88,354.93 L288.39,355.09 L288.91,355.25 L289.42,355.39 L289.93,355.53 L290.45,355.66 L290.96,355.78 L291.47,355.89 L291.99,356.00 L292.50,356.09 L293.01,356.19 L293.53,356.27 L294.04,356.35 L294.55,356.42 L295.07,356.49 L295.58,356.56 L296.09,356.62 L296.61,356.67 L297.12,356.72 L297.63,356.77" stroke="#e81c24"/>
</g>
<g stroke="#1a1a1a" stroke-width="1.5" fill="none">
<path d="M105.0,223.9 V358.8" stroke-width="1.7"/>
<path d="M104.4,358.1 H300.9" stroke-width="1.7" stroke="#1e1e1e"/>
<path d="M101.2,358.10 H105"/>
<path d="M101.2,297.50 H105"/>
<path d="M101.2,236.60 H105"/>
<path d="M143.90,358 V362.6"/>
<path d="M195.23,358 V362.6"/>
<path d="M246.56,358 V362.6"/>
<path d="M297.89,358 V362.6"/>
</g>
<g font-family="Liberation Sans" font-size="8.4" fill="#000" stroke="#000" stroke-width="0.3">
<text x="99.4" y="359.70" text-anchor="end" textLength="10.8" lengthAdjust="spacingAndGlyphs">0.0</text>
<text x="99.4" y="300.40" text-anchor="end" textLength="10.8" lengthAdjust="spacingAndGlyphs">0.5</text>
<text x="99.4" y="239.00" text-anchor="end" textLength="10.8" lengthAdjust="spacingAndGlyphs">1.0</text>
<text x="144.35" y="370.4" text-anchor="middle" textLength="13.0" lengthAdjust="spacingAndGlyphs">400</text>
<text x="195.75" y="370.4" text-anchor="middle" textLength="13.0" lengthAdjust="spacingAndGlyphs">500</text>
<text x="247.50" y="370.4" text-anchor="middle" textLength="13.0" lengthAdjust="spacingAndGlyphs">600</text>
<text x="299.70" y="370.4" text-anchor="middle" textLength="13.0" lengthAdjust="spacingAndGlyphs">700</text>
</g>
<text x="158.9" y="390.6" font-family="Liberation Sans" font-size="13" stroke="#000" stroke-width="0.3" textLength="88.9" lengthAdjust="spacingAndGlyphs">Wavelength(nm)</text>
<text transform="translate(75.4,345.9) rotate(-90)" font-family="Liberation Sans" font-size="11.6" stroke="#000" stroke-width="0.35" textLength="121.4" lengthAdjust="spacingAndGlyphs">Normalized absorbance</text>
<path d="M304,233.6 H313" stroke="#7a38c0" stroke-width="2.1"/>
<text x="321.6" y="237.2" font-family="Liberation Sans" font-size="11" stroke="#000" stroke-width="0.38" textLength="42.7" lengthAdjust="spacingAndGlyphs">S cones</text>
<path d="M304,246.9 H313" stroke="#14902a" stroke-width="2.1"/>
<text x="321.6" y="251.5" font-family="Liberation Sans" font-size="11" stroke="#000" stroke-width="0.38" textLength="45.5" lengthAdjust="spacingAndGlyphs">M cones</text>
<path d="M304,262.1 H313" stroke="#e81c24" stroke-width="2.1"/>
<text x="321.6" y="266.3" font-family="Liberation Sans" font-size="11" stroke="#000" stroke-width="0.38" textLength="42" lengthAdjust="spacingAndGlyphs">L cones</text>
<path d="M304,278.0 H313" stroke="#000" stroke-width="2.1"/>
<text x="321.6" y="281.3" font-family="Liberation Sans" font-size="11" stroke="#000" stroke-width="0.38" textLength="28" lengthAdjust="spacingAndGlyphs">Rods</text>
<path d="M304,292.4 H313" stroke="#3aa2f2" stroke-width="2.1"/>
<text x="321.6" y="295.9" font-family="Liberation Sans" font-size="11" stroke="#000" stroke-width="0.38" textLength="63" lengthAdjust="spacingAndGlyphs">Melanopsin</text>
<g><rect x="96.9" y="436.2" width="10.3" height="14.20" rx="1.5" fill="#bc7dac"/><rect x="104.0" y="437.34" width="3.4" height="1.0" fill="#fff"/><rect x="104.0" y="439.52" width="3.4" height="1.0" fill="#fff"/><rect x="104.0" y="441.71" width="3.4" height="1.0" fill="#fff"/><rect x="104.0" y="443.89" width="3.4" height="1.0" fill="#fff"/><rect x="104.0" y="446.08" width="3.4" height="1.0" fill="#fff"/><rect x="104.0" y="448.26" width="3.4" height="1.0" fill="#fff"/><ellipse cx="100.35" cy="443.30" rx="1.45" ry="2.4" fill="#fff"/><rect x="96.9" y="452.2" width="10.3" height="14.50" rx="1.5" fill="#bc7dac"/><rect x="104.0" y="453.37" width="3.4" height="1.0" fill="#fff"/><rect x="104.0" y="455.60" width="3.4" height="1.0" fill="#fff"/><rect x="104.0" y="457.83" width="3.4" height="1.0" fill="#fff"/><rect x="104.0" y="460.07" width="3.4" height="1.0" fill="#fff"/><rect x="104.0" y="462.30" width="3.4" height="1.0" fill="#fff"/><rect x="104.0" y="464.53" width="3.4" height="1.0" fill="#fff"/><ellipse cx="100.35" cy="459.45" rx="1.45" ry="2.4" fill="#fff"/><rect x="96.9" y="468.4" width="10.3" height="14.70" rx="1.5" fill="#bc7dac"/><rect x="104.0" y="469.60" width="3.4" height="1.0" fill="#fff"/><rect x="104.0" y="471.86" width="3.4" height="1.0" fill="#fff"/><rect x="104.0" y="474.12" width="3.4" height="1.0" fill="#fff"/><rect x="104.0" y="476.38" width="3.4" height="1.0" fill="#fff"/><rect x="104.0" y="478.64" width="3.4" height="1.0" fill="#fff"/><rect x="104.0" y="480.90" width="3.4" height="1.0" fill="#fff"/><ellipse cx="100.35" cy="475.75" rx="1.45" ry="2.4" fill="#fff"/><rect x="96.9" y="484.7" width="10.3" height="14.30" rx="1.5" fill="#bc7dac"/><rect x="104.0" y="485.85" width="3.4" height="1.0" fill="#fff"/><rect x="104.0" y="488.05" width="3.4" height="1.0" fill="#fff"/><rect x="104.0" y="490.25" width="3.4" height="1.0" fill="#fff"/><rect x="104.0" y="492.45" width="3.4" height="1.0" fill="#fff"/><rect x="104.0" y="494.65" width="3.4" height="1.0" fill="#fff"/><rect x="104.0" y="496.85" width="3.4" height="1.0" fill="#fff"/><ellipse cx="100.35" cy="491.85" rx="1.45" ry="2.4" fill="#fff"/><rect x="108.3" y="449.90" width="53.0" height="4.70" fill="#5e5e5e"/><rect x="109.50" y="450.75" width="1.8" height="3.0" fill="#fff"/><rect x="112.58" y="450.75" width="1.8" height="3.0" fill="#fff"/><rect x="115.66" y="450.75" width="1.8" height="3.0" fill="#fff"/><rect x="118.74" y="450.75" width="1.8" height="3.0" fill="#fff"/><rect x="121.82" y="450.75" width="1.8" height="3.0" fill="#fff"/><rect x="124.90" y="450.75" width="1.8" height="3.0" fill="#fff"/><rect x="127.98" y="450.75" width="1.8" height="3.0" fill="#fff"/><rect x="131.06" y="450.75" width="1.8" height="3.0" fill="#fff"/><rect x="134.14" y="450.75" width="1.8" height="3.0" fill="#fff"/><rect x="137.22" y="450.75" width="1.8" height="3.0" fill="#fff"/><rect x="140.30" y="450.75" width="1.8" height="3.0" fill="#fff"/><rect x="143.38" y="450.75" width="1.8" height="3.0" fill="#fff"/><rect x="146.46" y="450.75" width="1.8" height="3.0" fill="#fff"/><rect x="149.54" y="450.75" width="1.8" height="3.0" fill="#fff"/><rect x="152.62" y="450.75" width="1.8" height="3.0" fill="#fff"/><rect x="155.70" y="450.75" width="1.8" height="3.0" fill="#fff"/><rect x="158.78" y="450.75" width="1.8" height="3.0" fill="#fff"/><path d="M163.5,449.70 H178.0 C181,449.70 182,451.55 185,451.60 C187.5,451.60 188,449.05 195,449.05 C202,449.05 202.5,451.60 205,451.60 H209.8 V452.90 H205 C202.5,452.90 202,455.45 195,455.45 C188,455.45 187.5,452.90 185,452.90 C182,452.95 181,454.80 178.0,454.80 H163.5 Z" fill="#5e5e5e"/><ellipse cx="195" cy="452.25" rx="4.9" ry="2.2" fill="#e4e4e4"/><path d="M215.6,449.65 C213,448.75 210.4,449.85 210.4,452.25 C210.4,454.65 213,455.75 215.6,454.85 M212,452.25 H214.8" fill="none" stroke="#5e5e5e" stroke-width="2.0"/><text x="165.6" y="454.75" font-family="Liberation Sans" font-size="7.2" fill="#f0f0f0" stroke="#f0f0f0" stroke-width="0.15" textLength="11.8" lengthAdjust="spacingAndGlyphs">Rod</text><rect x="108.3" y="457.65" width="53.0" height="4.70" fill="#5e5e5e"/><rect x="109.50" y="458.50" width="1.8" height="3.0" fill="#fff"/><rect x="112.58" y="458.50" width="1.8" height="3.0" fill="#fff"/><rect x="115.66" y="458.50" width="1.8" height="3.0" fill="#fff"/><rect x="118.74" y="458.50" width="1.8" height="3.0" fill="#fff"/><rect x="121.82" y="458.50" width="1.8" height="3.0" fill="#fff"/><rect x="124.90" y="458.50" width="1.8" height="3.0" fill="#fff"/><rect x="127.98" y="458.50" width="1.8" height="3.0" fill="#fff"/><rect x="131.06" y="458.50" width="1.8" height="3.0" fill="#fff"/><rect x="134.14" y="458.50" width="1.8" height="3.0" fill="#fff"/><rect x="137.22" y="458.50" width="1.8" height="3.0" fill="#fff"/><rect x="140.30" y="458.50" width="1.8" height="3.0" fill="#fff"/><rect x="143.38" y="458.50" width="1.8" height="3.0" fill="#fff"/><rect x="146.46" y="458.50" width="1.8" height="3.0" fill="#fff"/><rect x="149.54" y="458.50" width="1.8" height="3.0" fill="#fff"/><rect x="152.62" y="458.50" width="1.8" height="3.0" fill="#fff"/><rect x="155.70" y="458.50" width="1.8" height="3.0" fill="#fff"/><rect x="158.78" y="458.50" width="1.8" height="3.0" fill="#fff"/><path d="M163.5,457.45 H178.0 C181,457.45 182,459.30 185,459.35 C187.5,459.35 188,456.80 195,456.80 C202,456.80 202.5,459.35 205,459.35 H209.8 V460.65 H205 C202.5,460.65 202,463.20 195,463.20 C188,463.20 187.5,460.65 185,460.65 C182,460.70 181,462.55 178.0,462.55 H163.5 Z" fill="#5e5e5e"/><ellipse cx="195" cy="460.00" rx="4.9" ry="2.2" fill="#e4e4e4"/><path d="M215.6,457.40 C213,456.50 210.4,457.60 210.4,460.00 C210.4,462.40 213,463.50 215.6,462.60 M212,460.00 H214.8" fill="none" stroke="#5e5e5e" stroke-width="2.0"/><rect x="108.3" y="465.35" width="53.0" height="4.70" fill="#5e5e5e"/><rect x="109.50" y="466.20" width="1.8" height="3.0" fill="#fff"/><rect x="112.58" y="466.20" width="1.8" height="3.0" fill="#fff"/><rect x="115.66" y="466.20" width="1.8" height="3.0" fill="#fff"/><rect x="118.74" y="466.20" width="1.8" height="3.0" fill="#fff"/><rect x="121.82" y="466.20" width="1.8" height="3.0" fill="#fff"/><rect x="124.90" y="466.20" width="1.8" height="3.0" fill="#fff"/><rect x="127.98" y="466.20" width="1.8" height="3.0" fill="#fff"/><rect x="131.06" y="466.20" width="1.8" height="3.0" fill="#fff"/><rect x="134.14" y="466.20" width="1.8" height="3.0" fill="#fff"/><rect x="137.22" y="466.20" width="1.8" height="3.0" fill="#fff"/><rect x="140.30" y="466.20" width="1.8" height="3.0" fill="#fff"/><rect x="143.38" y="466.20" width="1.8" height="3.0" fill="#fff"/><rect x="146.46" y="466.20" width="1.8" height="3.0" fill="#fff"/><rect x="149.54" y="466.20" width="1.8" height="3.0" fill="#fff"/><rect x="152.62" y="466.20" width="1.8" height="3.0" fill="#fff"/><rect x="155.70" y="466.20" width="1.8" height="3.0" fill="#fff"/><rect x="158.78" y="466.20" width="1.8" height="3.0" fill="#fff"/><path d="M163.5,465.15 H178.0 C181,465.15 182,467.00 185,467.05 C187.5,467.05 188,464.50 195,464.50 C202,464.50 202.5,467.05 205,467.05 H209.8 V468.35 H205 C202.5,468.35 202,470.90 195,470.90 C188,470.90 187.5,468.35 185,468.35 C182,468.40 181,470.25 178.0,470.25 H163.5 Z" fill="#5e5e5e"/><ellipse cx="195" cy="467.70" rx="4.9" ry="2.2" fill="#e4e4e4"/><path d="M215.6,465.10 C213,464.20 210.4,465.30 210.4,467.70 C210.4,470.10 213,471.20 215.6,470.30 M212,467.70 H214.8" fill="none" stroke="#5e5e5e" stroke-width="2.0"/><rect x="108.3" y="486.65" width="53.0" height="4.70" fill="#5e5e5e"/><rect x="109.50" y="486.45" width="1.8" height="3.1" fill="#fff"/><rect x="112.58" y="486.45" width="1.8" height="3.1" fill="#fff"/><rect x="115.66" y="486.45" width="1.8" height="3.1" fill="#fff"/><rect x="118.74" y="486.45" width="1.8" height="3.1" fill="#fff"/><rect x="121.82" y="486.45" width="1.8" height="3.1" fill="#fff"/><rect x="124.90" y="486.45" width="1.8" height="3.1" fill="#fff"/><rect x="127.98" y="486.45" width="1.8" height="3.1" fill="#fff"/><rect x="131.06" y="486.45" width="1.8" height="3.1" fill="#fff"/><rect x="134.14" y="486.45" width="1.8" height="3.1" fill="#fff"/><rect x="137.22" y="486.45" width="1.8" height="3.1" fill="#fff"/><rect x="140.30" y="486.45" width="1.8" height="3.1" fill="#fff"/><rect x="143.38" y="486.45" width="1.8" height="3.1" fill="#fff"/><rect x="146.46" y="486.45" width="1.8" height="3.1" fill="#fff"/><rect x="149.54" y="486.45" width="1.8" height="3.1" fill="#fff"/><rect x="152.62" y="486.45" width="1.8" height="3.1" fill="#fff"/><rect x="155.70" y="486.45" width="1.8" height="3.1" fill="#fff"/><rect x="158.78" y="486.45" width="1.8" height="3.1" fill="#fff"/><path d="M163.5,486.45 H178.0 C181,486.45 182,488.30 185,488.35 C187.5,488.35 188,485.80 195,485.80 C202,485.80 202.5,488.35 205,488.35 H209.8 V489.65 H205 C202.5,489.65 202,492.20 195,492.20 C188,492.20 187.5,489.65 185,489.65 C182,489.70 181,491.55 178.0,491.55 H163.5 Z" fill="#5e5e5e"/><ellipse cx="195" cy="489.00" rx="4.9" ry="2.2" fill="#e4e4e4"/><path d="M215.6,486.40 C213,485.50 210.4,486.60 210.4,489.00 C210.4,491.40 213,492.50 215.6,491.60 M212,489.00 H214.8" fill="none" stroke="#5e5e5e" stroke-width="2.0"/><path d="M112.5,436.85 H134.5 C136.5,436.85 137.5,439.70 138.6,439.70 C139.6,439.70 140.4,436.85 142.5,436.85 H163 C165,436.55 180,436.55 183,437.15 C186,439.60 189,439.70 192,439.80 H203.5 C207,439.80 208.5,434.70 211,434.40 H218.8 V447.60 H211 C208.5,447.30 207,442.20 203.5,442.20 H192 C189,442.30 186,442.40 183,444.85 C180,445.45 165,445.45 163,445.15 H142.5 C140.4,445.15 139.6,442.30 138.6,442.30 C137.5,442.30 136.5,445.15 134.5,445.15 H112.5 C106.5,445.15 106.5,436.85 112.5,436.85 Z" fill="#b9a0db"/><rect x="111.20" y="438.00" width="1.15" height="6.0" fill="#fff" opacity="0.92"/><rect x="113.85" y="438.00" width="1.15" height="6.0" fill="#fff" opacity="0.92"/><rect x="116.50" y="438.00" width="1.15" height="6.0" fill="#fff" opacity="0.92"/><rect x="119.15" y="438.00" width="1.15" height="6.0" fill="#fff" opacity="0.92"/><rect x="121.80" y="438.00" width="1.15" height="6.0" fill="#fff" opacity="0.92"/><rect x="124.45" y="438.00" width="1.15" height="6.0" fill="#fff" opacity="0.92"/><rect x="127.10" y="438.00" width="1.15" height="6.0" fill="#fff" opacity="0.92"/><rect x="129.75" y="438.00" width="1.15" height="6.0" fill="#fff" opacity="0.92"/><rect x="132.40" y="438.00" width="1.15" height="6.0" fill="#fff" opacity="0.92"/><rect x="214.3" y="436.85" width="4.6" height="1.5" fill="#fff"/><rect x="214.3" y="440.25" width="4.6" height="1.5" fill="#fff"/><rect x="214.3" y="443.65" width="4.6" height="1.5" fill="#fff"/><ellipse cx="172" cy="441.00" rx="6.8" ry="2.8" fill="#e4e4e4"/><text x="142.6" y="443.60" font-family="Liberation Sans" font-size="8" fill="#f4eefa" stroke="#f4eefa" stroke-width="0.15" textLength="16.2" lengthAdjust="spacingAndGlyphs">Cone</text><path d="M112.5,473.15 H134.5 C136.5,473.15 137.5,476.00 138.6,476.00 C139.6,476.00 140.4,473.15 142.5,473.15 H163 C165,472.85 180,472.85 183,473.45 C186,475.90 189,476.00 192,476.10 H203.5 C207,476.10 208.5,471.00 211,470.70 H218.8 V483.90 H211 C208.5,483.60 207,478.50 203.5,478.50 H192 C189,478.60 186,478.70 183,481.15 C180,481.75 165,481.75 163,481.45 H142.5 C140.4,481.45 139.6,478.60 138.6,478.60 C137.5,478.60 136.5,481.45 134.5,481.45 H112.5 C106.5,481.45 106.5,473.15 112.5,473.15 Z" fill="#3dbf86"/><rect x="111.20" y="474.30" width="1.15" height="6.0" fill="#fff" opacity="0.92"/><rect x="113.85" y="474.30" width="1.15" height="6.0" fill="#fff" opacity="0.92"/><rect x="116.50" y="474.30" width="1.15" height="6.0" fill="#fff" opacity="0.92"/><rect x="119.15" y="474.30" width="1.15" height="6.0" fill="#fff" opacity="0.92"/><rect x="121.80" y="474.30" width="1.15" height="6.0" fill="#fff" opacity="0.92"/><rect x="124.45" y="474.30" width="1.15" height="6.0" fill="#fff" opacity="0.92"/><rect x="127.10" y="474.30" width="1.15" height="6.0" fill="#fff" opacity="0.92"/><rect x="129.75" y="474.30" width="1.15" height="6.0" fill="#fff" opacity="0.92"/><rect x="132.40" y="474.30" width="1.15" height="6.0" fill="#fff" opacity="0.92"/><rect x="214.3" y="473.15" width="4.6" height="1.5" fill="#fff"/><rect x="214.3" y="476.55" width="4.6" height="1.5" fill="#fff"/><rect x="214.3" y="479.95" width="4.6" height="1.5" fill="#fff"/><ellipse cx="172" cy="477.30" rx="6.8" ry="2.8" fill="#e4e4e4"/><path d="M112.5,493.15 H134.5 C136.5,493.15 137.5,496.00 138.6,496.00 C139.6,496.00 140.4,493.15 142.5,493.15 H163 C165,492.85 180,492.85 183,493.45 C186,495.90 189,496.00 192,496.10 H203.5 C207,496.10 208.5,491.00 211,490.70 H218.8 V503.90 H211 C208.5,503.60 207,498.50 203.5,498.50 H192 C189,498.60 186,498.70 183,501.15 C180,501.75 165,501.75 163,501.45 H142.5 C140.4,501.45 139.6,498.60 138.6,498.60 C137.5,498.60 136.5,501.45 134.5,501.45 H112.5 C106.5,501.45 106.5,493.15 112.5,493.15 Z" fill="#bde01e"/><rect x="111.20" y="494.30" width="1.15" height="6.0" fill="#fff" opacity="0.92"/><rect x="113.85" y="494.30" width="1.15" height="6.0" fill="#fff" opacity="0.92"/><rect x="116.50" y="494.30" width="1.15" height="6.0" fill="#fff" opacity="0.92"/><rect x="119.15" y="494.30" width="1.15" height="6.0" fill="#fff" opacity="0.92"/><rect x="121.80" y="494.30" width="1.15" height="6.0" fill="#fff" opacity="0.92"/><rect x="124.45" y="494.30" width="1.15" height="6.0" fill="#fff" opacity="0.92"/><rect x="127.10" y="494.30" width="1.15" height="6.0" fill="#fff" opacity="0.92"/><rect x="129.75" y="494.30" width="1.15" height="6.0" fill="#fff" opacity="0.92"/><rect x="132.40" y="494.30" width="1.15" height="6.0" fill="#fff" opacity="0.92"/><rect x="214.3" y="493.15" width="4.6" height="1.5" fill="#fff"/><rect x="214.3" y="496.55" width="4.6" height="1.5" fill="#fff"/><rect x="214.3" y="499.95" width="4.6" height="1.5" fill="#fff"/><ellipse cx="172" cy="497.30" rx="6.8" ry="2.8" fill="#e4e4e4"/><rect x="276.3" y="433" width="11.2" height="73.6" fill="#d3d3d3"/><g fill="none" stroke="#f07cc0" stroke-width="1.3"><path d="M222.4,457.3 C226,457.5 229,457.6 233.2,457.6"/><path d="M245.0,457.4 C255,456.5 265,455 280.3,454.3"/><path d="M224.2,475.8 C230,475.7 236,475.4 242.5,475.1"/><path d="M254.3,474.9 C262,474 272,473.2 283,472.8"/><path d="M222.3,487.9 C230,488.2 236,488.6 241.2,488.7"/><path d="M252.2,488.6 C262,488.3 272,486.5 283,485.6"/><path d="M215,444.8 C218,445 219.8,446 220.5,448 C221.5,451 221.5,454 221,457"/><path d="M215.6,452.7 C218,453 219.5,454.5 220.3,457 C221,462 220.7,468 220.7,475 C220.7,482 220.7,488 220.7,492.3"/><path d="M222,461 C224,461.5 226,463.5 227.1,466.8 C228,472 228.4,480 228.4,485 C228.2,489 227.8,492 227.1,494.2"/><path d="M216.9,466.8 C217.5,466 218,465.6 218.8,465.5 M216.9,478.3 C218.5,478.5 219.5,478.8 220.7,479.5 M219.5,497.4 C221,497 223,496.8 224.6,496.8"/><path d="M280.3,451.5 V457 M283,470 V475.5 M283,483 V489"/></g><ellipse cx="239.1" cy="457.6" rx="5.9" ry="3.2" fill="#fbf4f8" stroke="#f07cc0" stroke-width="1.3"/><ellipse cx="248.4" cy="475.0" rx="5.9" ry="3.2" fill="#e4e4e4" stroke="#f07cc0" stroke-width="1.3"/><ellipse cx="246.7" cy="488.7" rx="5.5" ry="3.2" fill="#e4e4e4" stroke="#f07cc0" stroke-width="1.3"/><g fill="none" stroke="#2a1a8a" stroke-width="1.35"><path d="M218.6,437.1 C221,437.5 221.7,439.5 221.7,442 V459.1 M218.5,459.1 H223.9 M218.5,459.1 C218,461 217.8,463 217.6,464.5"/><path d="M223.9,459.1 C224.5,460.5 224.2,462 223.6,463.5 V468 C223.6,471 223.5,474 221.7,478.3 M218.5,474.1 C220,475 221,476.5 221.7,478.3 C220.5,480 219.8,481 219.8,481.8 M221.7,478.3 V495.5 M221.7,499 C221,500.5 220,501.5 219.5,502.5"/><circle cx="227.9" cy="466.1" r="4.2" fill="#ececf2"/><circle cx="227.4" cy="497.0" r="4.0" fill="#ececf2"/><path d="M221.7,495.5 C222.5,494.5 223,494 223.6,494.4 M221.7,499 C222.5,499.5 223,499.8 223.6,499.5"/></g><g fill="none" stroke="#eea02a" stroke-width="1.45"><path d="M281.5,450.5 C279.5,450.3 277.5,451.2 276.5,453.2 C275.8,455.5 276,458 276.3,460.5 C276.8,463.5 277.3,465.5 277.9,466.8 C278.6,468.3 279.6,469 280.6,469.5 C278.5,469.6 276.8,469.8 275.6,470.3 C274.4,471 273.8,472 273.8,474 V478 C273.8,480 274.8,480.8 275.6,481.4 C276.2,483 276.4,484.3 277.5,486 C279,487.8 281,488.8 283.4,489.5"/><path d="M272.4,482.3 H283 M276.2,456.8 H282 M276.3,463.2 H283"/></g><ellipse cx="267.9" cy="482.3" rx="4.5" ry="2.1" fill="#f2f0ea" stroke="#eea02a" stroke-width="1.4"/><g fill="none" stroke="#a6a6a6" stroke-width="1.6"><path d="M305,469.3 C308.5,469.6 311,471.5 311,475 V508 C311,511.5 309,513.3 305.5,513.3 H275"/><path d="M304.3,486 C306.8,486.4 308.6,488 308.6,491 V506.5 C308.6,509.5 307,511.25 304,511.25 H275"/><path d="M293.2,469.2 H286.5 M292.4,485.9 H286.5"/></g><ellipse cx="299.2" cy="469" rx="6.2" ry="4.0" fill="#e4e4e4" stroke="#a6a6a6" stroke-width="1.4"/><ellipse cx="298.4" cy="485.7" rx="6.2" ry="4.0" fill="#e4e4e4" stroke="#a6a6a6" stroke-width="1.4"/><g fill="none" stroke="#1a98cc" stroke-width="1.9"><path d="M283.8,434.8 C286.8,435.3 288,437.5 288,440.5 V450 C288,453 288.5,455 290,456 C291.5,456.5 292.8,455.5 294.2,454.6"/><path d="M288,455 C287.5,462 287,470 286.6,478 C286.2,485 285.8,490 286.2,495 C286.4,501 282.5,505 278.4,505.7"/><path d="M305.2,454 C309.5,453.8 314,456 314,461 V509.5 C314,513.5 311.5,515.4 307.5,515.4 H275"/></g><ellipse cx="299.8" cy="453.9" rx="5.6" ry="3.6" fill="#e4e4e4" stroke="#1a98cc" stroke-width="1.8"/><text x="290.9" y="448.4" font-family="Liberation Sans" font-size="7.2" fill="#222" stroke="#222" stroke-width="0.3" textLength="20.9" lengthAdjust="spacingAndGlyphs">ipRGC</text><text x="290.9" y="497.4" font-family="Liberation Sans" font-size="7.2" fill="#222" stroke="#222" stroke-width="0.3" textLength="15" lengthAdjust="spacingAndGlyphs">RGC</text><path d="M317.5,432.7 L330.5,467.3 M330.5,479.2 L318,514" stroke="#333" stroke-width="0.7" fill="none"/><rect x="330.5" y="467.3" width="12.9" height="11.9" fill="none" stroke="#222" stroke-width="0.8"/><path d="M380.88,449.23 A34.4,34.4 0 1 0 380.88,515.37" fill="none" stroke="#929292" stroke-width="2.6"/><path d="M381.19,448.18 A35.5,35.5 0 1 0 381.19,516.42" fill="none" stroke="#575757" stroke-width="0.9"/><path d="M382.13,450.88 A33.199999999999996,33.199999999999996 0 1 0 382.13,513.72" fill="none" stroke="#6a6a6a" stroke-width="0.7"/><path d="M381.19,448.18 C396,453.5 407.8,467 407.8,483.3 C407.8,499.5 396,513 381.19,516.42" fill="none" stroke="#5e5e5e" stroke-width="1.1"/><path d="M380.88,450.43 C393,456.5 404.2,469 404.2,483.3 C404.2,497.5 393,510 380.88,514.17" fill="none" stroke="#707070" stroke-width="0.9"/><path d="M388.6,457.6 C391,461 392.5,465 393.2,470.5 L395.6,474.5 L396.2,470 C395.5,466 393,461 390.6,457.2 Z" fill="#b0b0b0" stroke="#6a6a6a" stroke-width="0.6"/><path d="M388.6,508.8 C391,505.4 392.5,501.4 393.2,495.9 L395.6,491.9 L396.2,496.4 C395.5,500.4 393,505.4 390.6,509.2 Z" fill="#b0b0b0" stroke="#6a6a6a" stroke-width="0.6"/><ellipse cx="389.4" cy="483.6" rx="6.3" ry="14.6" fill="none" stroke="#666" stroke-width="1.0"/><path d="M339.5,488.5 C336,488.5 332.5,489.5 330.5,491 M339.5,490.5 C336,490.8 333,492 330.5,494 M339.5,492.5 C336.5,493 333.5,494.5 331,497 M339.5,494.5 C337,495.2 334.5,496.8 332,499.5 M339.5,496.5 C337.5,497.3 335.5,499 333.5,501.5" stroke="#3a3a3a" stroke-width="0.9" fill="none"/><path d="M352.5,479.5 C356,479.3 359.5,479.3 362.3,480.8 C365.5,482.6 367.2,492.7 369.6,492.7 C371.64,492.60 373.16,483.20 375.20,483.20 C377.24,483.20 378.76,492.60 380.80,492.60 C382.84,492.60 384.36,483.20 386.40,483.20 C388.44,483.20 389.96,492.60 392.00,492.60 C394.04,492.60 395.56,483.20 397.60,483.20 C399.64,483.20 401.16,492.60 403.20,492.60 C405.24,492.60 406.76,483.20 408.80,483.20 C410.84,483.20 412.36,492.60 414.40,492.60 C416.44,492.60 417.96,483.20 420.00,483.20 C422.04,483.20 423.56,492.60 425.60,492.60 C427.64,492.60 429.16,483.20 431.20,483.20 C434.40,483.20 438.20,485.50 439.8,489.9" fill="none" stroke="#f8c300" stroke-width="2.0" stroke-linecap="round"/><path d="M345.8,479.4 L353.6,474.9 L352.4,479.4 L353.6,484.0 Z" fill="#f8c300"/><circle cx="469" cy="482.2" r="13.1" fill="#f8c300"/><path d="M469.00,449.90 L473.70,465.40 L464.30,465.40 Z" fill="#f8c300"/><path d="M491.84,459.36 L484.20,473.64 L477.56,467.00 Z" fill="#f8c300"/><path d="M501.30,482.20 L485.80,486.90 L485.80,477.50 Z" fill="#f8c300"/><path d="M491.84,505.04 L477.56,497.40 L484.20,490.76 Z" fill="#f8c300"/><path d="M469.00,514.50 L464.30,499.00 L473.70,499.00 Z" fill="#f8c300"/><path d="M446.16,505.04 L453.80,490.76 L460.44,497.40 Z" fill="#f8c300"/><path d="M436.70,482.20 L452.20,477.50 L452.20,486.90 Z" fill="#f8c300"/><path d="M446.16,459.36 L460.44,467.00 L453.80,473.64 Z" fill="#f8c300"/><path d="M106,529.6 H300" stroke="#f5bf00" stroke-width="2.1"/><path d="M100.4,529.6 L108.9,524.7 L107.2,529.6 L108.9,534.4 Z" fill="#f5bf00"/><text x="176.9" y="516.3" font-family="Liberation Sans" font-size="8.9" fill="#111" stroke="#111" stroke-width="0.2" textLength="94.4" lengthAdjust="spacingAndGlyphs">Optic tract (to the Brain)</text><text x="185.8" y="544" font-family="Liberation Sans" font-weight="bold" font-size="13.5" fill="#000" textLength="28.4" lengthAdjust="spacingAndGlyphs">Light</text></g>
</svg>
</body></html>
